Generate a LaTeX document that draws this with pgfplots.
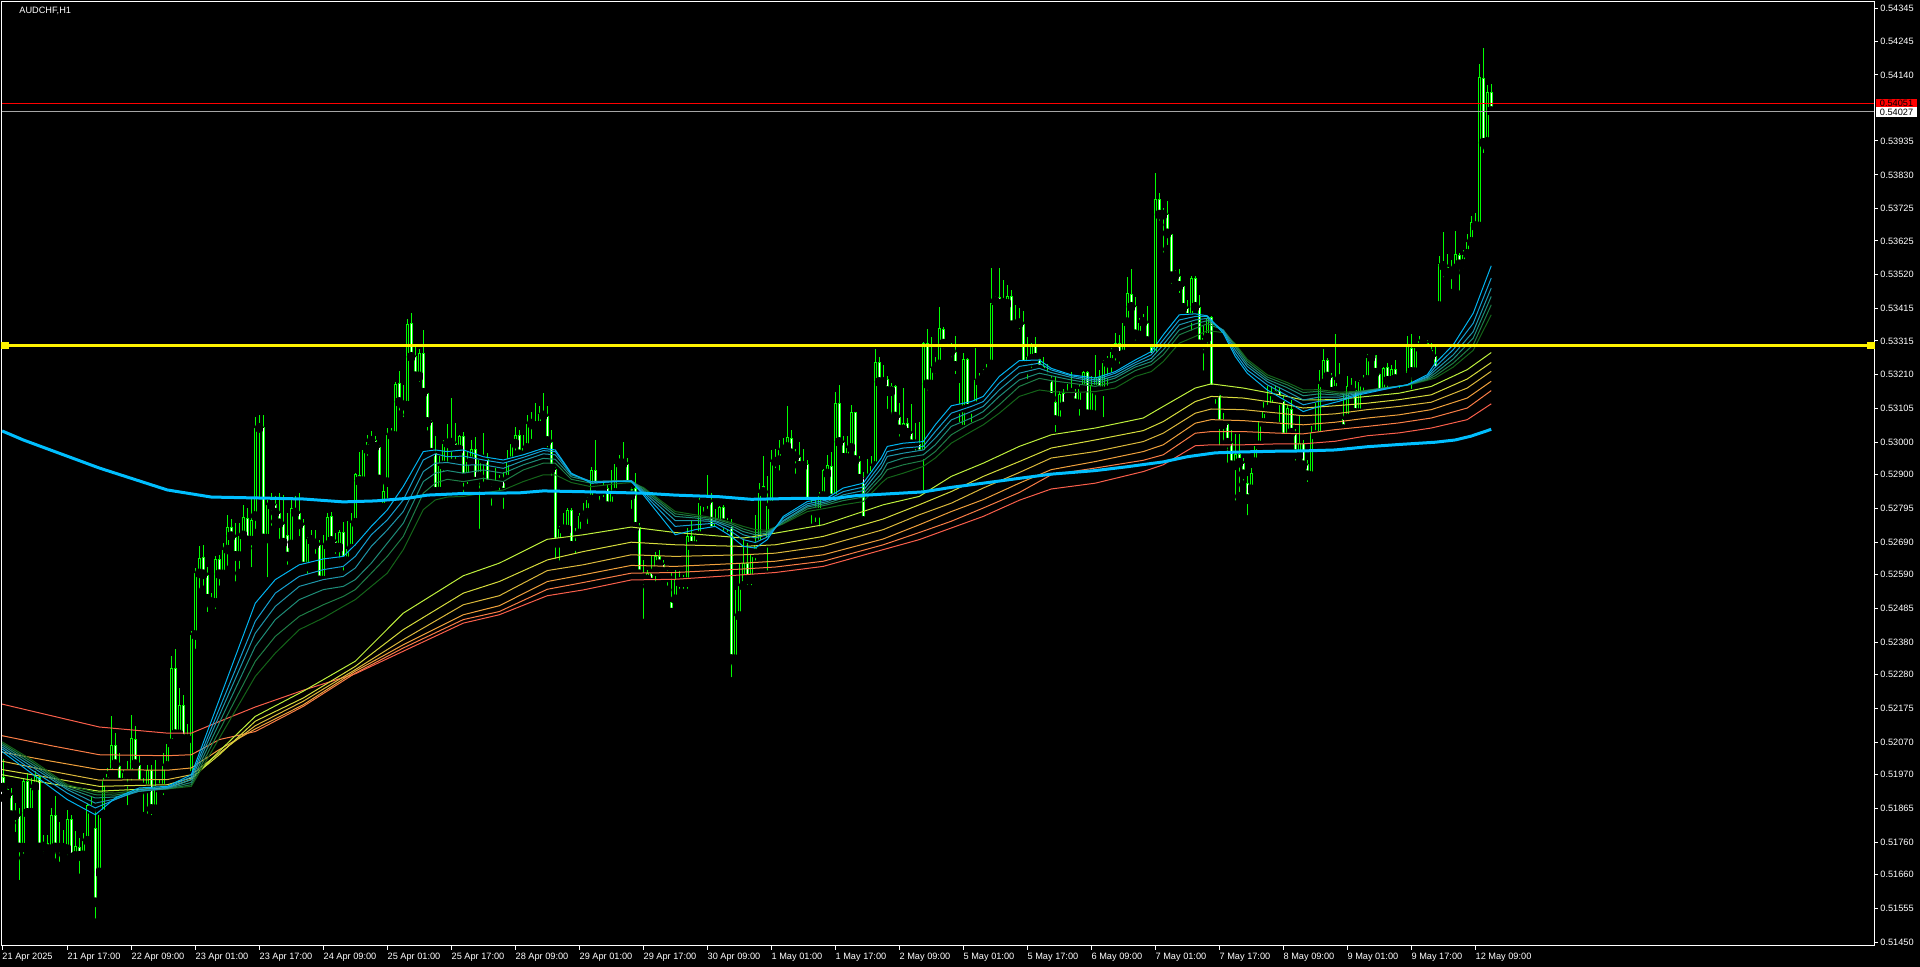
\documentclass[border=0pt]{standalone}
\usepackage{fontspec}
\setmainfont{Liberation Sans}
\usepackage{pgfplots}
\usepackage{pgfplotstable}
\pgfplotsset{compat=1.18}
\definecolor{candle}{RGB}{0,255,0}
\definecolor{ma200}{RGB}{0,191,255}
\definecolor{fa}{RGB}{0,180,240}
\definecolor{fb}{RGB}{20,160,210}
\definecolor{fc}{RGB}{30,150,170}
\definecolor{fd}{RGB}{30,140,120}
\definecolor{fe}{RGB}{30,125,70}
\definecolor{ff}{RGB}{20,100,25}
\definecolor{sa}{RGB}{190,240,60}
\definecolor{sb}{RGB}{215,220,60}
\definecolor{sc}{RGB}{220,185,60}
\definecolor{sd}{RGB}{240,160,60}
\definecolor{se}{RGB}{250,125,70}
\definecolor{sf}{RGB}{250,95,75}
\newcommand{\mtfont}{\fontsize{4.6pt}{5.5pt}\selectfont}

\pgfplotstableread{
i O H L C
1 0.51963 0.52019 0.51898 0.51929
2 0.51926 0.51934 0.51898 0.51907
3 0.51907 0.51929 0.51821 0.51843
4 0.51843 0.51883 0.51779 0.51845
5 0.51843 0.51867 0.51630 0.51743
6 0.51743 0.51960 0.51712 0.51950
7 0.51950 0.51975 0.51841 0.51850
8 0.51851 0.51960 0.51841 0.51929
9 0.51932 0.51981 0.51924 0.51965
10 0.51963 0.51965 0.51738 0.51743
11 0.51746 0.51784 0.51712 0.51757
12 0.51757 0.51784 0.51728 0.51738
13 0.51738 0.51867 0.51728 0.51846
14 0.51846 0.51905 0.51697 0.51743
15 0.51746 0.51823 0.51686 0.51742
16 0.51742 0.51800 0.51722 0.51744
17 0.51738 0.51862 0.51697 0.51834
18 0.51834 0.51846 0.51702 0.51712
19 0.51717 0.51795 0.51707 0.51748
20 0.51746 0.51774 0.51650 0.51717
21 0.51719 0.51790 0.51717 0.51764
22 0.51764 0.51883 0.51753 0.51877
23 0.51877 0.51905 0.51857 0.51860
24 0.51805 0.51862 0.51511 0.51573
25 0.51666 0.51851 0.51655 0.51846
26 0.51846 0.51960 0.51841 0.51950
27 0.51946 0.51991 0.51934 0.51973
28 0.51973 0.52151 0.51965 0.52063
29 0.52063 0.52099 0.51975 0.52001
30 0.51998 0.52037 0.51929 0.51944
31 0.51944 0.51986 0.51924 0.51975
32 0.51975 0.52012 0.51862 0.51971
33 0.51971 0.52156 0.51939 0.52084
34 0.52082 0.52120 0.51991 0.52001
35 0.52001 0.52027 0.51913 0.51939
36 0.51939 0.51960 0.51841 0.51926
37 0.51926 0.52001 0.51836 0.51984
38 0.51984 0.52001 0.51831 0.51862
39 0.51862 0.52017 0.51857 0.51932
40 0.51932 0.51955 0.51903 0.51926
41 0.51926 0.52037 0.51893 0.51996
42 0.51996 0.52073 0.51991 0.52066
43 0.52066 0.52337 0.52063 0.52301
44 0.52301 0.52359 0.52089 0.52094
45 0.52094 0.52239 0.52089 0.52185
46 0.52185 0.52218 0.52073 0.52079
47 0.52079 0.52128 0.52073 0.52078
48 0.51965 0.52417 0.51955 0.52402
49 0.52402 0.52610 0.52347 0.52595
50 0.52593 0.52680 0.52533 0.52641
51 0.52644 0.52683 0.52543 0.52590
52 0.52590 0.52615 0.52461 0.52514
53 0.52514 0.52533 0.52495 0.52502
54 0.52502 0.52647 0.52471 0.52638
55 0.52638 0.52652 0.52543 0.52590
56 0.52590 0.52688 0.52585 0.52667
57 0.52667 0.52776 0.52605 0.52739
58 0.52739 0.52762 0.52703 0.52708
59 0.52708 0.52750 0.52556 0.52647
60 0.52647 0.52752 0.52595 0.52711
61 0.52711 0.52807 0.52703 0.52768
62 0.52765 0.52796 0.52672 0.52695
63 0.52695 0.52827 0.52600 0.52760
64 0.52771 0.53080 0.52719 0.53044
65 0.53044 0.53086 0.52812 0.53047
66 0.53047 0.53086 0.52698 0.52701
67 0.52701 0.52822 0.52569 0.52807
68 0.52807 0.52845 0.52729 0.52804
69 0.52808 0.52833 0.52755 0.52781
70 0.52781 0.52845 0.52688 0.52748
71 0.52748 0.52838 0.52678 0.52688
72 0.52714 0.52781 0.52608 0.52645
73 0.52683 0.52824 0.52678 0.52796
74 0.52793 0.52835 0.52765 0.52781
75 0.52781 0.52845 0.52696 0.52745
76 0.52745 0.52762 0.52610 0.52614
77 0.52614 0.52707 0.52580 0.52701
78 0.52701 0.52729 0.52673 0.52696
79 0.52694 0.52729 0.52642 0.52683
80 0.52683 0.52698 0.52549 0.52571
81 0.52571 0.52714 0.52559 0.52681
82 0.52680 0.52781 0.52678 0.52769
83 0.52771 0.52786 0.52673 0.52693
84 0.52695 0.52719 0.52642 0.52673
85 0.52673 0.52729 0.52616 0.52724
86 0.52724 0.52755 0.52590 0.52631
87 0.52631 0.52758 0.52626 0.52670
88 0.52670 0.52783 0.52652 0.52750
89 0.52750 0.52905 0.52738 0.52903
90 0.52900 0.52972 0.52853 0.52879
91 0.52879 0.52979 0.52864 0.52977
92 0.52977 0.53024 0.52946 0.53003
93 0.53004 0.53036 0.52988 0.53005
94 0.53008 0.53019 0.52982 0.52986
95 0.52986 0.52993 0.52879 0.52884
96 0.52797 0.52884 0.52793 0.52851
97 0.52876 0.53044 0.52814 0.53024
98 0.53021 0.53044 0.53008 0.53023
99 0.53019 0.53189 0.53013 0.53182
100 0.53184 0.53223 0.53086 0.53124
101 0.53129 0.53179 0.53065 0.53113
102 0.53113 0.53382 0.53109 0.53367
103 0.53370 0.53403 0.53258 0.53264
104 0.53268 0.53299 0.53194 0.53204
105 0.53204 0.53289 0.53175 0.53279
106 0.53279 0.53349 0.53148 0.53153
107 0.53153 0.53158 0.53024 0.53062
108 0.53065 0.53070 0.52962 0.52967
109 0.52967 0.53019 0.52828 0.52845
110 0.52847 0.52957 0.52833 0.52928
111 0.52928 0.53008 0.52895 0.52996
112 0.52996 0.53058 0.52920 0.52998
113 0.52998 0.53137 0.52936 0.53000
114 0.53000 0.53060 0.52936 0.52977
115 0.52977 0.53024 0.52962 0.53021
116 0.53019 0.53034 0.52833 0.52889
117 0.52892 0.52972 0.52858 0.52941
118 0.52941 0.53008 0.52923 0.52979
119 0.52979 0.53018 0.52869 0.52877
120 0.52894 0.52951 0.52719 0.52946
121 0.52946 0.53029 0.52853 0.52951
122 0.52948 0.52967 0.52843 0.52869
123 0.52869 0.52874 0.52791 0.52848
124 0.52863 0.52920 0.52832 0.52865
125 0.52874 0.52900 0.52832 0.52882
126 0.52884 0.52910 0.52781 0.52843
127 0.52884 0.52977 0.52879 0.52941
128 0.52941 0.52998 0.52936 0.52995
129 0.52995 0.53049 0.52962 0.53023
130 0.53023 0.53039 0.52941 0.52962
131 0.52958 0.53023 0.52931 0.52982
132 0.52982 0.53085 0.52972 0.53057
133 0.53057 0.53096 0.52998 0.53062
134 0.53062 0.53124 0.53047 0.53049
135 0.53051 0.53113 0.53034 0.53089
136 0.53086 0.53153 0.53080 0.53082
137 0.53082 0.53113 0.52972 0.53003
138 0.53003 0.53039 0.52884 0.52917
139 0.52917 0.52923 0.52626 0.52688
140 0.52688 0.52740 0.52621 0.52731
141 0.52731 0.52781 0.52724 0.52729
142 0.52729 0.52796 0.52724 0.52791
143 0.52791 0.52796 0.52672 0.52678
144 0.52678 0.52734 0.52641 0.52679
145 0.52717 0.52781 0.52709 0.52771
146 0.52765 0.52812 0.52740 0.52783
147 0.52781 0.52832 0.52734 0.52822
148 0.52822 0.52923 0.52817 0.52915
149 0.52915 0.53008 0.52853 0.52858
150 0.52858 0.52863 0.52801 0.52848
151 0.52851 0.52879 0.52817 0.52853
152 0.52858 0.52869 0.52786 0.52801
153 0.52801 0.52915 0.52776 0.52843
154 0.52843 0.52941 0.52838 0.52934
155 0.52934 0.52962 0.52925 0.52937
156 0.52936 0.53003 0.52925 0.52933
157 0.52934 0.52951 0.52858 0.52863
158 0.52855 0.52861 0.52781 0.52835
159 0.52858 0.52905 0.52734 0.52737
160 0.52737 0.52750 0.52587 0.52590
161 0.52587 0.52636 0.52440 0.52574
162 0.52574 0.52605 0.52554 0.52597
163 0.52597 0.52652 0.52559 0.52564
164 0.52600 0.52662 0.52554 0.52647
165 0.52647 0.52667 0.52616 0.52621
166 0.52624 0.52636 0.52580 0.52597
167 0.52597 0.52605 0.52543 0.52580
168 0.52507 0.52595 0.52461 0.52471
169 0.52513 0.52606 0.52508 0.52577
170 0.52575 0.52601 0.52533 0.52566
171 0.52566 0.52590 0.52533 0.52575
172 0.52566 0.52735 0.52533 0.52709
173 0.52709 0.52761 0.52662 0.52678
174 0.52678 0.52719 0.52652 0.52709
175 0.52709 0.52828 0.52709 0.52814
176 0.52814 0.52833 0.52771 0.52820
177 0.52820 0.52900 0.52781 0.52817
178 0.52817 0.52843 0.52719 0.52724
179 0.52724 0.52794 0.52724 0.52748
180 0.52748 0.52802 0.52724 0.52800
181 0.52800 0.52807 0.52709 0.52748
182 0.52748 0.52766 0.52709 0.52742
183 0.52742 0.52763 0.52259 0.52327
184 0.52327 0.52544 0.52317 0.52461
185 0.52461 0.52626 0.52451 0.52554
186 0.52554 0.52699 0.52533 0.52626
187 0.52626 0.52688 0.52544 0.52575
188 0.52575 0.52657 0.52544 0.52655
189 0.52655 0.52776 0.52621 0.52683
190 0.52683 0.52874 0.52678 0.52843
191 0.52866 0.52959 0.52828 0.52845
192 0.52688 0.52895 0.52590 0.52804
193 0.52804 0.52977 0.52802 0.52939
194 0.52939 0.52979 0.52907 0.52944
195 0.52944 0.53008 0.52900 0.52977
196 0.52974 0.53013 0.52971 0.52985
197 0.52985 0.53114 0.52977 0.53017
198 0.53013 0.53039 0.52956 0.52965
199 0.52967 0.52979 0.52890 0.52955
200 0.52955 0.53003 0.52895 0.52926
201 0.52926 0.52979 0.52910 0.52936
202 0.52934 0.52946 0.52802 0.52807
203 0.52807 0.52822 0.52735 0.52794
204 0.52794 0.52822 0.52740 0.52781
205 0.52781 0.52848 0.52724 0.52833
206 0.52833 0.52917 0.52822 0.52915
207 0.52903 0.52962 0.52895 0.52930
208 0.52928 0.52971 0.52817 0.52825
209 0.52825 0.53158 0.52802 0.53124
210 0.53124 0.53179 0.52988 0.53000
211 0.53003 0.53019 0.52926 0.52951
212 0.52951 0.53019 0.52941 0.52982
213 0.52982 0.53117 0.52977 0.53094
214 0.53094 0.53096 0.52936 0.52944
215 0.52944 0.52957 0.52874 0.52886
216 0.52895 0.52910 0.52750 0.52755
217 0.52882 0.52948 0.52874 0.52892
218 0.52895 0.52957 0.52886 0.52926
219 0.52926 0.53289 0.52915 0.53249
220 0.53249 0.53264 0.53179 0.53186
221 0.53186 0.53241 0.53174 0.53196
222 0.53196 0.53205 0.53091 0.53158
223 0.53158 0.53184 0.53060 0.53176
224 0.53176 0.53179 0.53076 0.53079
225 0.53079 0.53122 0.53003 0.53039
226 0.53039 0.53168 0.53014 0.53060
227 0.53060 0.53076 0.53008 0.53029
228 0.53029 0.53120 0.52988 0.52993
229 0.52993 0.53060 0.52962 0.52996
230 0.52996 0.53065 0.52952 0.52962
231 0.52962 0.53313 0.52838 0.53308
232 0.53308 0.53351 0.53148 0.53179
233 0.53179 0.53326 0.53168 0.53230
234 0.53227 0.53264 0.53199 0.53244
235 0.53241 0.53419 0.53236 0.53354
236 0.53351 0.53357 0.53277 0.53305
237 0.53305 0.53308 0.53267 0.53282
238 0.53282 0.53308 0.53251 0.53284
239 0.53282 0.53331 0.53199 0.53236
240 0.53103 0.53186 0.53050 0.53117
241 0.53039 0.53277 0.53029 0.53259
242 0.53259 0.53261 0.53096 0.53103
243 0.53103 0.53117 0.53050 0.53114
244 0.53112 0.53292 0.53106 0.53194
245 0.53189 0.53215 0.53184 0.53201
246 0.53199 0.53227 0.53194 0.53217
247 0.53217 0.53246 0.53213 0.53244
248 0.53241 0.53540 0.53236 0.53434
249 0.53437 0.53454 0.53427 0.53450
250 0.53450 0.53540 0.53419 0.53429
251 0.53432 0.53504 0.53423 0.53434
252 0.53429 0.53489 0.53427 0.53454
253 0.53454 0.53473 0.53359 0.53362
254 0.53365 0.53427 0.53359 0.53375
255 0.53375 0.53416 0.53339 0.53368
256 0.53368 0.53409 0.53230 0.53236
257 0.53236 0.53326 0.53184 0.53264
258 0.53258 0.53308 0.53217 0.53303
259 0.53303 0.53326 0.53256 0.53261
260 0.53258 0.53264 0.53215 0.53225
261 0.53215 0.53264 0.53210 0.53236
262 0.53207 0.53244 0.53186 0.53194
263 0.53192 0.53205 0.53132 0.53137
264 0.53127 0.53205 0.53019 0.53068
265 0.53065 0.53161 0.53062 0.53151
266 0.53153 0.53165 0.53103 0.53110
267 0.53137 0.53181 0.53132 0.53158
268 0.53153 0.53220 0.53148 0.53163
269 0.53158 0.53165 0.53117 0.53120
270 0.53117 0.53179 0.53070 0.53165
271 0.53165 0.53223 0.53153 0.53220
272 0.53220 0.53223 0.53081 0.53086
273 0.53086 0.53205 0.53065 0.53179
274 0.53163 0.53272 0.53086 0.53203
275 0.53203 0.53225 0.53153 0.53158
276 0.53158 0.53256 0.53065 0.53246
277 0.53246 0.53267 0.53163 0.53249
278 0.53246 0.53293 0.53205 0.53282
279 0.53282 0.53339 0.53241 0.53308
280 0.53308 0.53334 0.53231 0.53267
281 0.53272 0.53370 0.53256 0.53370
282 0.53372 0.53514 0.53365 0.53463
283 0.53461 0.53537 0.53416 0.53419
284 0.53422 0.53450 0.53303 0.53334
285 0.53331 0.53385 0.53324 0.53372
286 0.53372 0.53399 0.53349 0.53375
287 0.53372 0.53424 0.53308 0.53313
288 0.53296 0.53303 0.53251 0.53262
289 0.53267 0.53835 0.53258 0.53754
290 0.53754 0.53773 0.53675 0.53705
291 0.53705 0.53726 0.53576 0.53709
292 0.53709 0.53750 0.53599 0.53647
293 0.53647 0.53647 0.53478 0.53514
294 0.53517 0.53535 0.53499 0.53519
295 0.53517 0.53537 0.53450 0.53484
296 0.53486 0.53489 0.53413 0.53416
297 0.53416 0.53442 0.53380 0.53385
298 0.53385 0.53516 0.53334 0.53511
299 0.53511 0.53516 0.53416 0.53419
300 0.53419 0.53458 0.53282 0.53303
301 0.53303 0.53360 0.53210 0.53324
302 0.53324 0.53391 0.53282 0.53385
303 0.53389 0.53393 0.53158 0.53163
304 0.53163 0.53163 0.53107 0.53148
305 0.53148 0.53153 0.52978 0.53055
306 0.53055 0.53091 0.52978 0.53058
307 0.53058 0.53060 0.52916 0.52998
308 0.53000 0.53040 0.52926 0.52928
309 0.52928 0.53027 0.52807 0.52965
310 0.52965 0.53027 0.52833 0.52936
311 0.52936 0.52952 0.52869 0.52900
312 0.52874 0.52897 0.52761 0.52823
313 0.52854 0.52921 0.52843 0.52907
314 0.52938 0.52990 0.52931 0.52988
315 0.52990 0.53068 0.52982 0.53065
316 0.53060 0.53127 0.53055 0.53099
317 0.53099 0.53174 0.53083 0.53110
318 0.53107 0.53176 0.53101 0.53143
319 0.53143 0.53176 0.53138 0.53161
320 0.53161 0.53172 0.53050 0.53130
321 0.53130 0.53143 0.53009 0.53014
322 0.53014 0.53117 0.53003 0.53107
323 0.53104 0.53133 0.53024 0.53029
324 0.53027 0.53042 0.52931 0.52962
325 0.52959 0.53081 0.52957 0.53000
326 0.52998 0.53009 0.52926 0.52928
327 0.52932 0.52947 0.52864 0.52897
328 0.52895 0.53050 0.52890 0.53030
329 0.53028 0.53122 0.53014 0.53021
330 0.53017 0.53226 0.53014 0.53182
331 0.53182 0.53290 0.53174 0.53257
332 0.53257 0.53262 0.53195 0.53203
333 0.53203 0.53215 0.53148 0.53156
334 0.53159 0.53337 0.53153 0.53195
335 0.53195 0.53248 0.53184 0.53197
336 0.53073 0.53151 0.53024 0.53040
337 0.53073 0.53205 0.53071 0.53176
338 0.53172 0.53200 0.53153 0.53162
339 0.53164 0.53190 0.53086 0.53090
340 0.53090 0.53195 0.53086 0.53187
341 0.53184 0.53210 0.53148 0.53195
342 0.53193 0.53275 0.53190 0.53262
343 0.53275 0.53279 0.53257 0.53262
344 0.53272 0.53272 0.53205 0.53215
345 0.53213 0.53215 0.53145 0.53148
346 0.53148 0.53234 0.53143 0.53231
347 0.53234 0.53248 0.53153 0.53190
348 0.53190 0.53241 0.53184 0.53228
349 0.53228 0.53255 0.53184 0.53195
350 0.53195 0.53205 0.53156 0.53192
351 0.53187 0.53207 0.53182 0.53200
352 0.53200 0.53331 0.53195 0.53298
353 0.53293 0.53337 0.53153 0.53217
354 0.53217 0.53306 0.53210 0.53293
355 0.53293 0.53329 0.53288 0.53314
356 0.53314 0.53327 0.53293 0.53310
357 0.53310 0.53319 0.53277 0.53283
358 0.53286 0.53308 0.53262 0.53267
359 0.53267 0.53303 0.53205 0.53221
360 0.53422 0.53577 0.53412 0.53554
361 0.53551 0.53654 0.53499 0.53546
362 0.53544 0.53585 0.53520 0.53525
363 0.53520 0.53566 0.53463 0.53535
364 0.53538 0.53656 0.53535 0.53585
365 0.53582 0.53589 0.53458 0.53551
366 0.53553 0.53598 0.53527 0.53580
367 0.53584 0.53647 0.53582 0.53621
368 0.53621 0.53701 0.53618 0.53685
369 0.53685 0.53713 0.53667 0.53669
370 0.53669 0.54174 0.53667 0.54134
371 0.54131 0.54222 0.53884 0.53928
372 0.53931 0.54108 0.53915 0.54088
373 0.54088 0.54112 0.54008 0.54026
}\candles

\pgfplotstableread{
i M
0.7 0.53036
6 0.53008
25 0.52921
42 0.52853
53 0.52831
65 0.52828
76 0.52825
86 0.52816
94 0.52819
102 0.52827
107 0.52837
116 0.52842
130 0.52844
136 0.52850
148 0.52847
161 0.52843
169 0.52837
180 0.52832
188 0.52824
200 0.52827
209 0.52827
214 0.52835
221 0.52840
231 0.52847
238 0.52861
246 0.52874
255 0.52889
263 0.52902
274 0.52913
282 0.52925
291 0.52940
297 0.52956
304 0.52968
311 0.52971
319 0.52973
326 0.52974
334 0.52977
342 0.52987
350 0.52994
359 0.53001
364 0.53008
368 0.53020
373 0.53041
}\maslow

\pgfplotstableread{
i S1 S2 S3 S4 S5 S6
0.7 0.51970 0.51986 0.52012 0.52040 0.52091 0.52189
13 0.51942 0.51960 0.51981 0.52012 0.52060 0.52153
25 0.51919 0.51934 0.51953 0.51986 0.52032 0.52118
42 0.51929 0.51939 0.51955 0.51984 0.52029 0.52099
48 0.51955 0.51960 0.51970 0.51991 0.52032 0.52099
55 0.52043 0.52032 0.52037 0.52048 0.52079 0.52135
64 0.52151 0.52136 0.52122 0.52112 0.52104 0.52180
76 0.52229 0.52208 0.52198 0.52187 0.52182 0.52232
89 0.52322 0.52306 0.52296 0.52291 0.52285 0.52283
101 0.52471 0.52420 0.52389 0.52373 0.52363 0.52353
116 0.52587 0.52533 0.52497 0.52466 0.52451 0.52440
125 0.52626 0.52569 0.52525 0.52494 0.52476 0.52466
137 0.52700 0.52636 0.52603 0.52569 0.52545 0.52525
146 0.52714 0.52662 0.52621 0.52590 0.52566 0.52543
158 0.52738 0.52691 0.52652 0.52619 0.52595 0.52574
169 0.52721 0.52683 0.52647 0.52616 0.52597 0.52576
186 0.52704 0.52678 0.52652 0.52626 0.52608 0.52590
194 0.52719 0.52683 0.52657 0.52632 0.52614 0.52597
206 0.52745 0.52709 0.52678 0.52652 0.52632 0.52616
221 0.52807 0.52763 0.52730 0.52701 0.52683 0.52668
230 0.52833 0.52807 0.52776 0.52745 0.52721 0.52699
238 0.52895 0.52848 0.52812 0.52786 0.52756 0.52735
246 0.52936 0.52895 0.52859 0.52823 0.52797 0.52771
255 0.52988 0.52941 0.52907 0.52874 0.52845 0.52821
263 0.53024 0.52983 0.52952 0.52916 0.52900 0.52856
274 0.53045 0.53008 0.52972 0.52941 0.52921 0.52874
286 0.53076 0.53037 0.53003 0.52972 0.52945 0.52910
291 0.53112 0.53065 0.53029 0.52993 0.52962 0.52931
299 0.53169 0.53127 0.53091 0.53060 0.53029 0.52990
303 0.53182 0.53143 0.53104 0.53071 0.53034 0.52993
311 0.53169 0.53138 0.53102 0.53068 0.53034 0.52993
320 0.53148 0.53122 0.53091 0.53060 0.53029 0.52996
326 0.53132 0.53107 0.53083 0.53055 0.53027 0.52996
334 0.53133 0.53114 0.53089 0.53063 0.53040 0.53004
342 0.53143 0.53122 0.53102 0.53076 0.53050 0.53021
350 0.53153 0.53133 0.53112 0.53086 0.53061 0.53030
358 0.53174 0.53148 0.53125 0.53102 0.53076 0.53045
367 0.53226 0.53197 0.53169 0.53138 0.53107 0.53071
373 0.53279 0.53248 0.53221 0.53190 0.53161 0.53120
}\slowgrp

\pgfplotstableread{
i F1 F2 F3 F4 F5 F6
0.7 0.52042 0.52050 0.52056 0.52062 0.52067 0.52072
8 0.51975 0.51986 0.51996 0.52004 0.52011 0.52017
17 0.51893 0.51913 0.51924 0.51929 0.51934 0.51939
24 0.51846 0.51867 0.51882 0.51898 0.51908 0.51916
29 0.51898 0.51893 0.51895 0.51901 0.51907 0.51913
35 0.51929 0.51924 0.51919 0.51919 0.51919 0.51922
42 0.51934 0.51931 0.51928 0.51927 0.51926 0.51926
48 0.51970 0.51963 0.51955 0.51946 0.51939 0.51934
64 0.52502 0.52446 0.52409 0.52368 0.52322 0.52275
69 0.52575 0.52533 0.52492 0.52451 0.52399 0.52347
75 0.52621 0.52585 0.52554 0.52513 0.52461 0.52420
81 0.52639 0.52606 0.52575 0.52544 0.52497 0.52456
86 0.52647 0.52616 0.52585 0.52554 0.52523 0.52492
89 0.52683 0.52647 0.52611 0.52575 0.52544 0.52513
93 0.52740 0.52714 0.52678 0.52626 0.52595 0.52554
97 0.52791 0.52760 0.52729 0.52688 0.52647 0.52595
101 0.52864 0.52822 0.52786 0.52750 0.52709 0.52668
106 0.52972 0.52946 0.52910 0.52879 0.52843 0.52792
109 0.52977 0.52965 0.52936 0.52905 0.52874 0.52822
112 0.52972 0.52956 0.52938 0.52913 0.52886 0.52831
116 0.52977 0.52958 0.52930 0.52905 0.52879 0.52833
121 0.52956 0.52946 0.52931 0.52915 0.52889 0.52843
126 0.52946 0.52936 0.52920 0.52905 0.52879 0.52853
131 0.52962 0.52954 0.52944 0.52931 0.52915 0.52879
136 0.52982 0.52975 0.52965 0.52951 0.52936 0.52900
139 0.52977 0.52972 0.52962 0.52948 0.52936 0.52900
143 0.52905 0.52903 0.52900 0.52894 0.52886 0.52876
148 0.52874 0.52879 0.52879 0.52879 0.52874 0.52863
154 0.52879 0.52879 0.52881 0.52881 0.52879 0.52872
158 0.52879 0.52881 0.52882 0.52882 0.52881 0.52876
161 0.52838 0.52843 0.52848 0.52853 0.52858 0.52861
169 0.52714 0.52740 0.52758 0.52771 0.52779 0.52786
174 0.52730 0.52745 0.52758 0.52766 0.52771 0.52776
179 0.52740 0.52750 0.52755 0.52758 0.52763 0.52766
183 0.52709 0.52724 0.52735 0.52742 0.52748 0.52752
186 0.52678 0.52699 0.52714 0.52724 0.52732 0.52740
189 0.52673 0.52690 0.52704 0.52714 0.52721 0.52730
192 0.52699 0.52707 0.52714 0.52719 0.52724 0.52728
196 0.52771 0.52766 0.52758 0.52755 0.52750 0.52748
202 0.52817 0.52810 0.52804 0.52800 0.52794 0.52786
207 0.52828 0.52822 0.52817 0.52812 0.52807 0.52797
211 0.52859 0.52848 0.52838 0.52828 0.52820 0.52807
216 0.52874 0.52862 0.52851 0.52841 0.52831 0.52817
220.5 0.52952 0.52936 0.52921 0.52903 0.52890 0.52874
222 0.52988 0.52972 0.52957 0.52936 0.52916 0.52890
226 0.52998 0.52983 0.52967 0.52952 0.52931 0.52905
231 0.53003 0.52988 0.52977 0.52962 0.52944 0.52926
234 0.53055 0.53034 0.53014 0.52993 0.52972 0.52952
238 0.53114 0.53091 0.53070 0.53050 0.53024 0.52998
243 0.53127 0.53112 0.53096 0.53076 0.53060 0.53034
246 0.53143 0.53127 0.53112 0.53096 0.53076 0.53055
250 0.53205 0.53184 0.53163 0.53143 0.53117 0.53091
255 0.53254 0.53236 0.53215 0.53194 0.53174 0.53143
260 0.53256 0.53246 0.53230 0.53215 0.53199 0.53163
263 0.53230 0.53225 0.53217 0.53207 0.53192 0.53158
268 0.53210 0.53207 0.53202 0.53194 0.53184 0.53155
274 0.53200 0.53194 0.53189 0.53182 0.53174 0.53158
279 0.53220 0.53215 0.53207 0.53200 0.53189 0.53169
284 0.53256 0.53248 0.53241 0.53234 0.53223 0.53205
288 0.53282 0.53272 0.53261 0.53251 0.53241 0.53220
291 0.53334 0.53318 0.53303 0.53287 0.53272 0.53251
295 0.53396 0.53380 0.53365 0.53349 0.53334 0.53308
299 0.53399 0.53391 0.53380 0.53368 0.53354 0.53329
302 0.53393 0.53391 0.53385 0.53378 0.53368 0.53347
306 0.53339 0.53344 0.53347 0.53349 0.53349 0.53341
309 0.53267 0.53277 0.53287 0.53296 0.53302 0.53306
312 0.53215 0.53225 0.53236 0.53244 0.53252 0.53258
317 0.53163 0.53179 0.53189 0.53196 0.53203 0.53210
322 0.53127 0.53145 0.53158 0.53170 0.53179 0.53186
326 0.53096 0.53117 0.53132 0.53145 0.53155 0.53163
330 0.53112 0.53128 0.53141 0.53151 0.53159 0.53164
335 0.53128 0.53133 0.53141 0.53147 0.53151 0.53156
340 0.53148 0.53151 0.53153 0.53156 0.53158 0.53159
346 0.53164 0.53166 0.53167 0.53168 0.53169 0.53169
352 0.53179 0.53179 0.53179 0.53178 0.53178 0.53177
357 0.53210 0.53205 0.53202 0.53198 0.53195 0.53193
359 0.53246 0.53234 0.53224 0.53215 0.53207 0.53200
363.5 0.53303 0.53288 0.53272 0.53259 0.53246 0.53234
368.5 0.53401 0.53370 0.53344 0.53324 0.53303 0.53286
373 0.53548 0.53510 0.53479 0.53453 0.53427 0.53396
}\fastgrp

\begin{document}
\begin{tikzpicture}
\path[use as bounding box] (0,0) rectangle (960pt,483.5pt);
\fill[black] (0,0) rectangle (960pt,483.5pt);
\begin{axis}[
  clip mode=individual,
  at={(1pt,10.5pt)}, anchor=south west,
  scale only axis, width=936pt, height=472pt,
  xmin=0.675, xmax=468.7, ymin=0.51439, ymax=0.54366,
  axis line style={white, line width=0.5pt},
  xtick pos=lower, ytick pos=upper,
  tick align=outside, major tick length=2pt,
  tick style={white, line width=0.5pt},
  scaled y ticks=false,
  xtick={0.7,17,33,49,65,81,97,113,129,145,161,177,193,209,225,241,257,273,289,305,321,337,353,369},
  xticklabels={21 Apr 2025,21 Apr 17:00,22 Apr 09:00,23 Apr 01:00,23 Apr 17:00,24 Apr 09:00,25 Apr 01:00,25 Apr 17:00,28 Apr 09:00,29 Apr 01:00,29 Apr 17:00,30 Apr 09:00,1 May 01:00,1 May 17:00,2 May 09:00,5 May 01:00,5 May 17:00,6 May 09:00,7 May 01:00,7 May 17:00,8 May 09:00,9 May 01:00,9 May 17:00,12 May 09:00},
  ytick={0.51450,0.51555,0.51660,0.51760,0.51865,0.51970,0.52070,0.52175,0.52280,0.52380,0.52485,0.52590,0.52690,0.52795,0.52900,0.53000,0.53105,0.53210,0.53315,0.53415,0.53520,0.53625,0.53725,0.53830,0.53935,0.54140,0.54245,0.54345},
  yticklabels={0.51450,0.51555,0.51660,0.51760,0.51865,0.51970,0.52070,0.52175,0.52280,0.52380,0.52485,0.52590,0.52690,0.52795,0.52900,0.53000,0.53105,0.53210,0.53315,0.53415,0.53520,0.53625,0.53725,0.53830,0.53935,0.54140,0.54245,0.54345},
  xticklabel style={font=\mtfont, text=white, anchor=north west, inner sep=0pt, yshift=-1.5pt},
  yticklabel style={font=\mtfont, text=white, anchor=west, inner sep=0pt, xshift=1pt},
]
% wicks
\addplot[only marks, mark=none, forget plot,
  error bars/.cd, y dir=plus, y explicit, error mark=none,
  error bar style={draw=candle, line width=0.5pt}]
  table[x=i, y=L, y error plus expr={\thisrow{H}-\thisrow{L}}] {\candles};
% bodies (outline)
\addplot[only marks, mark=none, forget plot,
  error bars/.cd, y dir=plus, y explicit, error mark=none,
  error bar style={draw=candle, line width=1.5pt}]
  table[x=i, y expr={min(\thisrow{O},\thisrow{C})}, y error plus expr={max(abs(\thisrow{C}-\thisrow{O}),0.000031)}] {\candles};
% inner (bull = black)
\addplot[only marks, mark=none, forget plot,
  error bars/.cd, y dir=plus, y explicit, error mark=none,
  error bar style={draw=black, line width=0.5pt}]
  table[x=i, y expr={min(\thisrow{O},\thisrow{C})+0.000031}, y error plus expr={max(abs(\thisrow{C}-\thisrow{O})-0.000062,0)}] {\candles};
% inner (bear = white)
\addplot[only marks, mark=none, forget plot,
  restrict expr to domain={\thisrow{O}-\thisrow{C}}{0.000005:1},
  error bars/.cd, y dir=plus, y explicit, error mark=none,
  error bar style={draw=white, line width=0.5pt}]
  table[x=i, y expr={min(\thisrow{O},\thisrow{C})+0.000031}, y error plus expr={max(abs(\thisrow{C}-\thisrow{O})-0.000062,0)}] {\candles};
% slow group
\addplot[sf, line width=0.5pt] table[x=i, y=S6] {\slowgrp};
\addplot[se, line width=0.5pt] table[x=i, y=S5] {\slowgrp};
\addplot[sd, line width=0.5pt] table[x=i, y=S4] {\slowgrp};
\addplot[sc, line width=0.5pt] table[x=i, y=S3] {\slowgrp};
\addplot[sb, line width=0.5pt] table[x=i, y=S2] {\slowgrp};
\addplot[sa, line width=0.5pt] table[x=i, y=S1] {\slowgrp};
% fast group
\addplot[ff, line width=0.5pt] table[x=i, y=F6] {\fastgrp};
\addplot[fe, line width=0.5pt] table[x=i, y=F5] {\fastgrp};
\addplot[fd, line width=0.5pt] table[x=i, y=F4] {\fastgrp};
\addplot[fc, line width=0.5pt] table[x=i, y=F3] {\fastgrp};
\addplot[fb, line width=0.5pt] table[x=i, y=F2] {\fastgrp};
\addplot[fa, line width=0.5pt] table[x=i, y=F1] {\fastgrp};
% 200 MA
\addplot[ma200, line width=1.5pt] table[x=i, y=M] {\maslow};
% horizontal lines
\addplot[yellow, line width=1.5pt] coordinates {(0.675,0.53302) (468.7,0.53302)};
\addplot[only marks, mark=square*, mark size=1.6pt, yellow] coordinates {(1.4,0.53302) (467.9,0.53302)};
\addplot[red, line width=0.5pt] coordinates {(0.675,0.54051) (468.7,0.54051)};
\addplot[gray!70, line width=0.5pt] coordinates {(0.675,0.54027) (468.7,0.54027)};
\coordinate (redp) at (axis cs:468.7,0.54051);
\coordinate (bidp) at (axis cs:468.7,0.54027);
\end{axis}
\node[fill=red, text=black, anchor=west, inner sep=0pt, minimum height=4.3pt, minimum width=20.5pt, font=\mtfont] at ([xshift=0.8pt]redp) {0.54051};
\node[fill=white, text=black, anchor=west, inner sep=0pt, minimum height=4.6pt, minimum width=20.5pt, font=\mtfont] at ([xshift=0.8pt,yshift=-0.3pt]bidp) {0.54027};
\node[anchor=north west, inner sep=0pt, text=white, font=\mtfont] at (9.5pt,480.3pt) {AUDCHF,H1};
\end{tikzpicture}
\end{document}
